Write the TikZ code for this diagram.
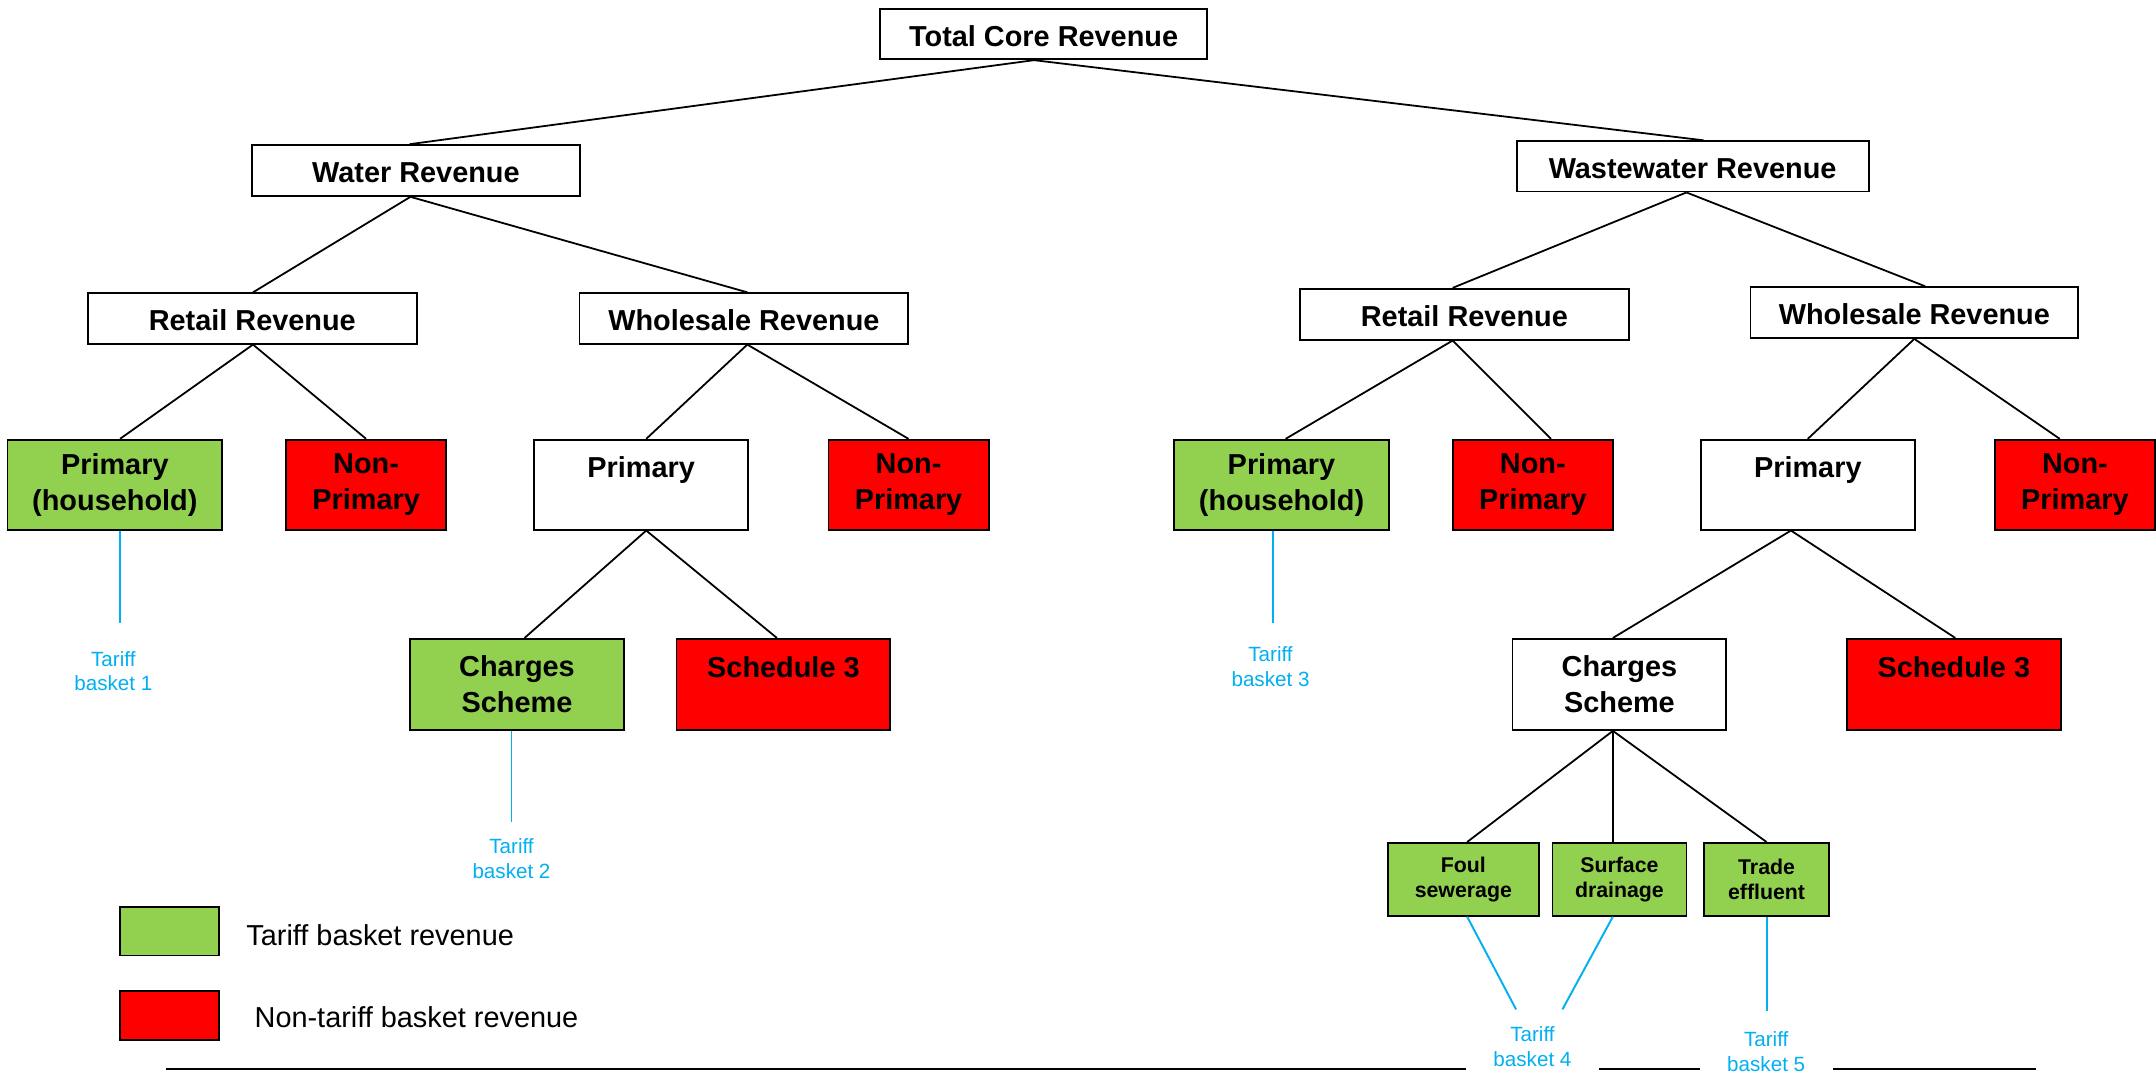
\documentclass[tikz,border=0pt]{standalone}
\usepackage{fontspec}
\setmainfont{Liberation Sans}
\definecolor{tgreen}{HTML}{92D050}
\definecolor{tred}{HTML}{FF0000}
\definecolor{tblue}{HTML}{00B0F0}
\tikzset{
  box/.style={draw=black, line width=1.3pt, inner sep=0pt, align=center, font=\bfseries\fontsize{21}{26}\selectfont},
  wbox/.style={box, fill=white},
  hbox/.style={box, fill=white, text height=18pt, text depth=0pt},
  gbox/.style={box, fill=tgreen},
  rbox/.style={box, fill=tred},
  smallbox/.style={box, fill=tgreen, font=\bfseries\fontsize{15.5}{18.5}\selectfont},
  tlabel/.style={text=tblue, inner sep=0pt, align=center, font=\fontsize{15}{18}\selectfont},
  legtext/.style={anchor=west, inner sep=0pt, font=\fontsize{21}{25}\selectfont},
  conn/.style={draw=black, line width=1.3pt},
  bconn/.style={draw=tblue, line width=1.4pt},
  rulestyle/.style={draw=black, line width=1.6pt},
  sz/.style 2 args={minimum width=#1pt, minimum height=#2pt},
}
\begin{document}
\begin{tikzpicture}[x=1pt, y=-1pt]
\useasboundingbox (0,0) rectangle (1568,780);
\fill[white] (0,0) rectangle (1568,780);

% level 0-2
\node[hbox, sz={238}{36.8}] (top) at (759,24.7) {Total Core Revenue};
\node[hbox, sz={238.5}{37}] (water) at (302.5,124) {Water Revenue};
\node[hbox, sz={256}{36.6}] (ww) at (1231,121) {Wastewater Revenue};
\node[hbox, sz={239}{36.7}] (ret1) at (183.5,231.6) {Retail Revenue};
\node[hbox, sz={239}{36.7}] (whs1) at (541,231.6) {Wholesale Revenue};
\node[hbox, sz={239}{37}] (ret2) at (1065,228.5) {Retail Revenue};
\node[hbox, sz={238.5}{37}] (whs2) at (1392.25,227.3) {Wholesale Revenue};

% level 3
\node[gbox, sz={156}{65.4}] (ph1) at (83.5,352.5) {Primary\\(household)};
\node[rbox, sz={116.5}{65.4}] (np1) at (266.25,352.5) {Non-\\Primary};
\node[wbox, sz={155.5}{65.4}] (pr1) at (466.25,352.5) {Primary\\\mbox{}};
\node[rbox, sz={116.5}{65.4}] (np2) at (660.75,352.5) {Non-\\Primary};
\node[gbox, sz={156}{65.4}] (ph2) at (932,352.5) {Primary\\(household)};
\node[rbox, sz={116.5}{65.4}] (np3) at (1114.75,352.5) {Non-\\Primary};
\node[wbox, sz={155.5}{65.4}] (pr2) at (1314.75,352.5) {Primary\\\mbox{}};
\node[rbox, sz={116}{65.4}] (np4) at (1509,352.5) {Non-\\Primary};

% level 4
\node[gbox, sz={156}{66.3}] (cs1) at (376,497.75) {Charges\\Scheme};
\node[rbox, sz={155.5}{66.3}] (s31) at (569.75,497.75) {Schedule 3\\\mbox{}};
\node[wbox, sz={155.5}{66.3}] (cs2) at (1177.75,497.75) {Charges\\Scheme};
\node[rbox, sz={156}{66.3}] (s32) at (1421,497.75) {Schedule 3\\\mbox{}};

% level 5
\node[smallbox, sz={109.5}{53}] (foul) at (1064.25,639.5) {Foul\\sewerage};
\node[smallbox, sz={97.5}{53}] (surf) at (1177.75,639.5) {Surface\\drainage};
\node[smallbox, sz={90.5}{53}] (trade) at (1284.75,639.5) {Trade\\effluent};

% legend
\node[gbox, sz={72}{35.4}] (lg) at (123,677.2) {};
\node[rbox, sz={72}{35.8}] (lr) at (123,738.4) {};
\node[legtext] (lgt) at (179,680.4) {Tariff basket revenue};
\node[legtext] (lrt) at (185,740) {Non-tariff basket revenue};

% bottom rule
\coordinate (rl) at (121,777.5);
\coordinate (rr) at (1481,777.5);
\draw[rulestyle] (rl) -- (rr);

% tariff labels
\node[tlabel, minimum height=69.4pt] (t1) at (82.4,488) {Tariff\\basket 1};
\node[tlabel, minimum height=52.4pt] (t2) at (372,624.2) {Tariff\\basket 2};
\node[tlabel, minimum height=64pt] (t3) at (924,485) {Tariff\\basket 3};
\node[tlabel, fill=white, minimum width=97pt, minimum height=53.4pt] (t4) at (1114.5,761) {Tariff\\basket 4};
\node[tlabel, fill=white, minimum width=97pt, minimum height=58.4pt] (t5) at (1284.5,764.6) {Tariff\\basket 5};

% black connectors
\draw[conn] ([xshift=-7pt]top.south) -- ([xshift=-4.5pt]water.north);
\draw[conn] ([xshift=-7pt]top.south) -- ([xshift=8pt]ww.north);
\draw[conn] ([xshift=-4pt]water.south) -- ([xshift=0.5pt]ret1.north);
\draw[conn] ([xshift=-4pt]water.south) -- ([xshift=2.5pt]whs1.north);
\draw[conn] ([xshift=0.5pt]ret1.south) -- ([xshift=3.8pt]ph1.north);
\draw[conn] ([xshift=0.5pt]ret1.south) -- (np1.north);
\draw[conn] ([xshift=2.5pt]whs1.south) -- ([xshift=3.75pt]pr1.north);
\draw[conn] ([xshift=2.5pt]whs1.south) -- (np2.north);
\draw[conn] ([xshift=3.75pt]pr1.south) -- ([xshift=5.5pt]cs1.north);
\draw[conn] ([xshift=3.75pt]pr1.south) -- ([xshift=-4.75pt]s31.north);
\draw[conn] ([xshift=-4.5pt]ww.south) -- ([xshift=-8.5pt]ret2.north);
\draw[conn] ([xshift=-4.5pt]ww.south) -- ([xshift=7.75pt]whs2.north);
\draw[conn] ([xshift=-8.5pt]ret2.south) -- ([xshift=3pt]ph2.north);
\draw[conn] ([xshift=-8.5pt]ret2.south) -- ([xshift=13.25pt]np3.north);
\draw[conn] (whs2.south) -- (pr2.north);
\draw[conn] (whs2.south) -- ([xshift=-11pt]np4.north);
\draw[conn] ([xshift=-12.25pt]pr2.south) -- ([xshift=-4.75pt]cs2.north);
\draw[conn] ([xshift=-12.25pt]pr2.south) -- ([xshift=1pt]s32.north);
\draw[conn] ([xshift=-4.75pt]cs2.south) -- ([xshift=2.75pt]foul.north);
\draw[conn] ([xshift=-4.75pt]cs2.south) -- ([xshift=-4.75pt]surf.north);
\draw[conn] ([xshift=-4.75pt]cs2.south) -- (trade.north);

% blue connectors
\draw[bconn] ([xshift=3.8pt]ph1.south) -- ([xshift=3.8pt]ph1.south |- t1.north);
\draw[bconn] ([xshift=-4pt]cs1.south) -- ([xshift=-4pt]cs1.south |- t2.north);
\draw[bconn] ([xshift=-6.5pt]ph2.south) -- ([xshift=-6.5pt]ph2.south |- t3.north);
\draw[bconn] ([xshift=2.75pt]foul.south) -- ([xshift=-11.9pt]t4.north);
\draw[bconn] ([xshift=-4.75pt]surf.south) -- ([xshift=21.8pt]t4.north);
\draw[bconn] (trade.south) -- (trade.south |- t5.north);
\end{tikzpicture}
\end{document}
